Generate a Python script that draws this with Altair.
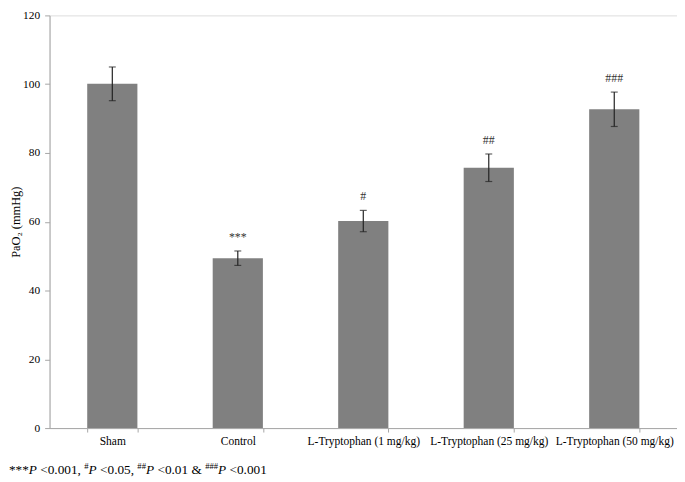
import altair as alt
import pandas as pd

groups = ["Sham", "Control", "L-Tryptophan (1 mg/kg)",
          "L-Tryptophan (25 mg/kg)", "L-Tryptophan (50 mg/kg)"]
means = [100.1, 49.4, 60.2, 75.7, 92.7]
errors = [4.9, 2.1, 3.1, 4.0, 5.0]
marks_sig = ["", "***", "#", "##", "###"]
y_ticks = [0, 20, 40, 60, 80, 100, 120]

df = pd.DataFrame({"group": groups, "mean": means, "err": errors, "sig": marks_sig})
df["lo"] = df["mean"] - df["err"]
df["hi"] = df["mean"] + df["err"]

W, H = 634, 417
FONT = "Liberation Serif"
AXC = "#a6a6a6"

xenc = alt.X("group:N", sort=groups, title=None,
             scale=alt.Scale(paddingInner=0.6, paddingOuter=0.3),
             axis=alt.Axis(labelAngle=0, labelFont=FONT, labelFontSize=11.6,
                           labelColor="#000", domainColor=AXC, tickColor=AXC,
                           tickSize=4, tickBand="extent", labelPadding=4,
                           labelLimit=300))

yaxis = alt.Axis(values=y_ticks, grid=False, title="PaO₂ (mmHg)",
                 titleFont=FONT, titleFontSize=12.5, titleFontWeight="normal",
                 titleColor="#000", titleX=-34, titleY=H / 2, titleAngle=270,
                 titleAlign="center", titleBaseline="middle",
                 labelFont=FONT, labelFontSize=11.5, labelColor="#000",
                 domainColor=AXC, tickColor=AXC, tickSize=5, labelPadding=5)
yscale = alt.Scale(domain=[0, 120], nice=False, zero=True)

base = alt.Chart(df)

bars = base.mark_bar(color="#808080").encode(
    x=xenc, y=alt.Y("mean:Q", scale=yscale, axis=yaxis))

err_rule = base.mark_rule(color="#222222", strokeWidth=1.2).encode(
    x=xenc, y=alt.Y("lo:Q", scale=yscale, axis=yaxis), y2="hi:Q")

cap_lo = base.mark_tick(color="#222222", size=7, thickness=1.2).encode(
    x=xenc, y=alt.Y("lo:Q", scale=yscale, axis=yaxis))
cap_hi = base.mark_tick(color="#222222", size=7, thickness=1.2).encode(
    x=xenc, y=alt.Y("hi:Q", scale=yscale, axis=yaxis))

sig = base.mark_text(font=FONT, fontSize=12, color="#333333",
                     baseline="alphabetic", dy=-10).encode(
    x=xenc, y=alt.Y("hi:Q", scale=yscale, axis=yaxis), text="sig:N")

# footnote pieces: (text, page-x, kind)
FS = 13.4
foot_text = ["***", "P", "<0.001,", "#", "P", "<0.05,", "##", "P",
             "<0.01 &", "###", "P", "<0.001"]
foot_kind = ["n", "i", "n", "s", "i", "n", "s", "i", "n", "s", "i", "n"]
foot_x = [2, 22, 33.6, 78, 82.4, 94, 131.7, 140.4, 152, 200.2, 213.3, 224.8]
SHIFT = 7

foot_layers = []
for t, k, px in zip(foot_text, foot_kind, foot_x):
    d = pd.DataFrame({"t": [t]})
    if k == "s":
        m = alt.Chart(d).mark_text(font=FONT, fontSize=FS * 0.65, color="#000",
                                   align="left", baseline="alphabetic")
        yv = 458
    else:
        m = alt.Chart(d).mark_text(font=FONT, fontSize=FS, color="#000",
                                   align="left", baseline="alphabetic",
                                   fontStyle="italic" if k == "i" else "normal")
        yv = 463
    foot_layers.append(m.encode(x=alt.value(px + SHIFT - 50), y=alt.value(yv), text="t:N"))

chart = alt.layer(bars, err_rule, cap_lo, cap_hi, sig, *foot_layers).properties(
    width=W, height=H,
    autosize=alt.AutoSizeParams(type="none"),
    padding={"left": 42, "top": 5, "right": 0, "bottom": 51},
).configure_view(stroke=None).configure(background="white")

chart.save("out.html", embed_options={"renderer": "svg", "actions": False})
